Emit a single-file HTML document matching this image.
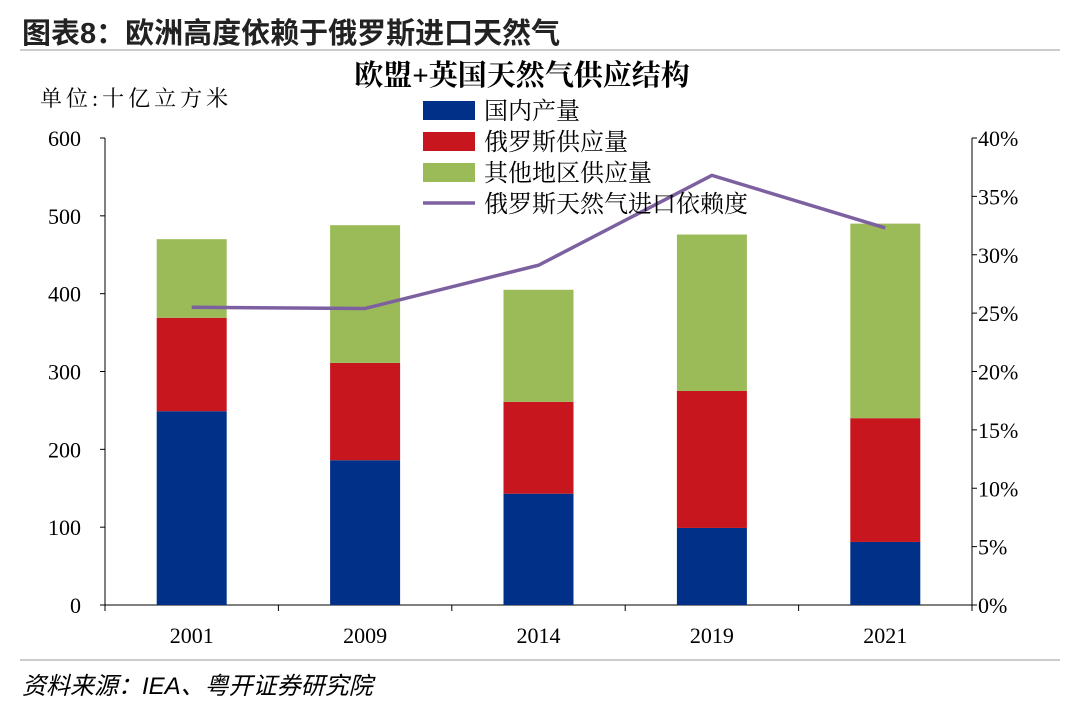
<!DOCTYPE html>
<html><head><meta charset="utf-8"><style>
body{margin:0;background:#fff;width:1080px;height:713px;overflow:hidden;font-family:"Liberation Serif","Noto Serif CJK SC",serif}
</style></head><body>
<svg id="c" width="1080" height="713" xmlns="http://www.w3.org/2000/svg">
<text x="22" y="43" font-family="Liberation Sans,Noto Sans CJK SC,sans-serif" font-weight="bold" font-size="29" fill="#222">图表8：欧洲高度依赖于俄罗斯进口天然气</text>
<line x1="20" y1="50" x2="1060" y2="50" stroke="#999" stroke-width="1"/>
<text x="522" y="85" text-anchor="middle" font-weight="bold" font-size="29" font-family="Liberation Serif,Noto Serif CJK SC,serif">欧盟+英国天然气供应结构</text>
<text x="40" y="106" font-size="22" letter-spacing="4" font-family="Liberation Serif,Noto Serif CJK SC,serif">单位:十亿立方米</text>
<g id="plot"></g>
<line x1="20" y1="660" x2="1060" y2="660" stroke="#999" stroke-width="1"/>
<text x="22" y="694" font-style="italic" font-size="24" font-family="Liberation Sans,Noto Sans CJK SC,sans-serif">资料来源：IEA、粤开证券研究院</text>
</svg>
<script>
const categories=["2001","2009","2014","2019","2021"];
const domestic=[249,186,143,99,81];
const russia=[120,125,118,176,159];
const other=[101,177,144,201,250];
const dependence=[25.5,25.4,29.1,36.8,32.3];
const leftTicks=[0,100,200,300,400,500,600];
const rightTicks=[0,5,10,15,20,25,30,35,40];
const NS="http://www.w3.org/2000/svg";
const g=document.getElementById('plot');
const X0=105,X1=972,Y0=605,Y1=138;
const yL=v=>Y0-(v/600)*(Y0-Y1);
const yR=v=>Y0-(v/40)*(Y0-Y1);
const band=(X1-X0)/categories.length;
const xC=i=>X0+band*(i+0.5);
function mk(t,a){const e=document.createElementNS(NS,t);for(const k in a)e.setAttribute(k,a[k]);g.appendChild(e);return e;}
let e;
e=mk('line',{x1:X0,y1:Y1,x2:X0,y2:Y0,stroke:'#000'});


e=mk('line',{x1:X1,y1:Y1,x2:X1,y2:Y0,stroke:'#000'});


e=mk('line',{x1:X0,y1:Y0,x2:X1,y2:Y0,stroke:'#000'});


leftTicks.forEach(v=>{
 mk('line',{x1:X0-5,y1:yL(v),x2:X0,y2:yL(v),stroke:'#000'});
 e=mk('text',{x:X0-24,y:yL(v)+8,'text-anchor':'end','font-size':22});e.textContent=v;
 
 
});
rightTicks.forEach(v=>{
 mk('line',{x1:X1,y1:yR(v),x2:X1+5,y2:yR(v),stroke:'#000'});
 e=mk('text',{x:X1+6,y:yR(v)+8,'font-size':22});e.textContent=v+'%';
 
 
});
for(let i=0;i<=categories.length;i++)mk('line',{x1:X0+band*i,y1:Y0,x2:X0+band*i,y2:Y0+6,stroke:'#000'});
const bw=70;
categories.forEach((c,i)=>{
 const x=xC(i)-bw/2;
 const segs=[[domestic[i],'#003087','bar-domestic'],[russia[i],'#C8161E','bar-russia'],[other[i],'#9BBB59','bar-other']];
 let base=0;
 segs.forEach(s=>{
  e=mk('rect',{x:x,y:yL(base+s[0]),width:bw,height:yL(base)-yL(base+s[0]),fill:s[1]});
  
  
  base+=s[0];
 });
 e=mk('text',{x:xC(i),y:643,'text-anchor':'middle','font-size':22});e.textContent=c;
 
 
});
e=mk('polyline',{points:dependence.map((v,i)=>xC(i)+','+yR(v)).join(' '),fill:'none',stroke:'#7D60A0','stroke-width':3.5});


const legend=[['国内产量','#003087','rect'],['俄罗斯供应量','#C8161E','rect'],['其他地区供应量','#9BBB59','rect'],['俄罗斯天然气进口依赖度','#7D60A0','line']];
legend.forEach((l,i)=>{
 const y=110+i*31;
 if(l[2]==='rect')mk('rect',{x:423,y:y-9,width:52,height:19,fill:l[1]});
 else mk('line',{x1:423,y1:y,x2:475,y2:y,stroke:l[1],'stroke-width':3.5});
 e=mk('text',{x:484,y:y+9,'font-size':24});e.textContent=l[0];
 
 
});
</script>
</body></html>
